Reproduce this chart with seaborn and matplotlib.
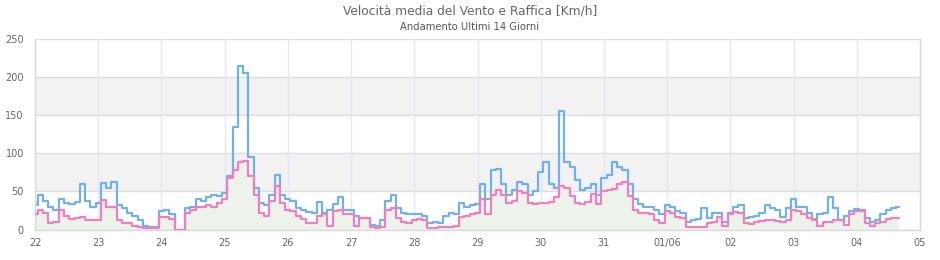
import numpy as np
import pandas as pd
import matplotlib
matplotlib.use("Agg")
import matplotlib.pyplot as plt
import matplotlib.dates as mdates
from matplotlib.ticker import FuncFormatter
import seaborn as sns

# ---- data (2-hour readings from 22 May 00:00) ----
start_time = "2025-05-22 00:00"
step = "2h"

gust = [
    32, 45, 38, 30, 25, 40, 35, 34, 36, 60, 38, 30,      # 22
    35, 61, 55, 62, 32, 28, 22, 18, 12, 5, 3, 3,         # 23
    24, 25, 20, 0, 0, 28, 30, 40, 38, 42, 45, 44,        # 24
    48, 70, 135, 215, 205, 95, 55, 35, 32, 45, 72, 45,   # 25
    40, 38, 28, 25, 23, 22, 36, 22, 25, 34, 42, 25,      # 26
    25, 18, 15, 15, 6, 5, 12, 38, 45, 28, 22, 20,        # 27
    20, 20, 18, 8, 10, 8, 18, 22, 20, 35, 30, 32,        # 28
    33, 60, 40, 78, 80, 60, 45, 52, 62, 60, 45, 50,      # 29
    75, 88, 60, 55, 155, 88, 82, 65, 52, 55, 60, 45,     # 30
    68, 72, 88, 82, 78, 60, 40, 33, 30, 30, 25, 20,      # 31
    32, 30, 24, 22, 10, 12, 14, 28, 15, 22, 22, 10,      # 01/06
    20, 30, 32, 15, 16, 18, 22, 32, 28, 25, 17, 28,      # 02
    40, 30, 30, 22, 14, 20, 22, 42, 28, 12, 18, 24,      # 03
    27, 26, 15, 10, 12, 20, 25, 28, 30,                  # 04
]
mean = [
    20, 26, 22, 8, 10, 25, 18, 14, 15, 16, 12, 12,
    13, 39, 30, 30, 13, 8, 8, 5, 3, 2, 2, 2,
    17, 17, 14, 0, 0, 22, 25, 30, 30, 32, 30, 35,
    40, 68, 78, 88, 90, 70, 45, 22, 18, 38, 57, 35,
    25, 24, 18, 14, 8, 8, 18, 20, 4, 24, 26, 20,
    20, 5, 15, 15, 3, 2, 3, 25, 28, 15, 10, 8,
    12, 14, 12, 2, 2, 3, 3, 3, 4, 17, 18, 20,
    22, 40, 20, 45, 52, 45, 35, 38, 50, 48, 35, 34,
    35, 35, 36, 42, 57, 55, 44, 35, 33, 36, 46, 33,
    50, 52, 53, 60, 62, 44, 25, 22, 22, 20, 12, 8,
    24, 22, 16, 15, 3, 3, 3, 3, 8, 10, 17, 4,
    22, 23, 22, 8, 7, 10, 11, 12, 12, 11, 10, 12,
    25, 24, 20, 15, 13, 5, 10, 10, 12, 12, 6, 20,
    24, 24, 8, 4, 8, 10, 14, 15, 15,
]
y_ticks = [0, 50, 100, 150, 200, 250]
x_start = "2025-05-22"
x_end = "2025-06-05"
title = "Velocità media del Vento e Raffica [Km/h]"
subtitle = "Andamento Ultimi 14 Giorni"

times = pd.date_range(start_time, periods=len(gust), freq=step)
df = pd.DataFrame({"time": times, "gust": gust, "mean": mean})

sns.set_theme(style="white")
plt.rcParams["font.family"] = ["DejaVu Sans"]

fig = plt.figure(figsize=(9.4, 2.6), dpi=100)
ax = fig.add_axes([35 / 940, 30.5 / 260, 885 / 940, 190.5 / 260])

# bands and grid
for lo, hi in [(50, 100), (150, 200)]:
    ax.axhspan(lo, hi, color="#f2f2f2", lw=0, zorder=0)
for y in y_ticks:
    ax.axhline(y, color="#dddddd", lw=1, zorder=0.5)
day_ticks = pd.date_range(x_start, x_end, freq="D")
for d in day_ticks:
    ax.axvline(d, color="#e6e6f5", lw=1, zorder=0.6)

ax.fill_between(df["time"], df["mean"], step="mid", color="#edf2ea", lw=0, zorder=1)
sns.lineplot(data=df, x="time", y="gust", ax=ax, color="#72b0ec", lw=1.6,
             drawstyle="steps-mid", zorder=2)
sns.lineplot(data=df, x="time", y="mean", ax=ax, color="#ee7fc0", lw=1.6,
             drawstyle="steps-mid", zorder=3)

ax.set_xlim(pd.Timestamp(x_start), pd.Timestamp(x_end))
ax.set_ylim(0, 250)
ax.set_yticks(y_ticks)
ax.set_xticks(day_ticks)
ax.xaxis.set_major_formatter(FuncFormatter(
    lambda v, p: mdates.num2date(v).strftime("%d/%m") if mdates.num2date(v).day == 1
    else mdates.num2date(v).strftime("%d")))
ax.set_xlabel("")
ax.set_ylabel("")
ax.tick_params(axis="both", length=0, labelsize=7, labelcolor="#666666")
ax.tick_params(axis="y", pad=8)
ax.tick_params(axis="x", pad=6)
for s in ax.spines.values():
    s.set_color("#d8d8d8")
    s.set_linewidth(1)
ax.spines["top"].set_visible(False)

fig.text(0.5, 1 - 11 / 260, title, ha="center", va="center", fontsize=8.8, color="#666666")
fig.text(0.5, 1 - 27 / 260, subtitle, ha="center", va="center", fontsize=7.2, color="#555555")

fig.savefig("out.png", dpi=100)
